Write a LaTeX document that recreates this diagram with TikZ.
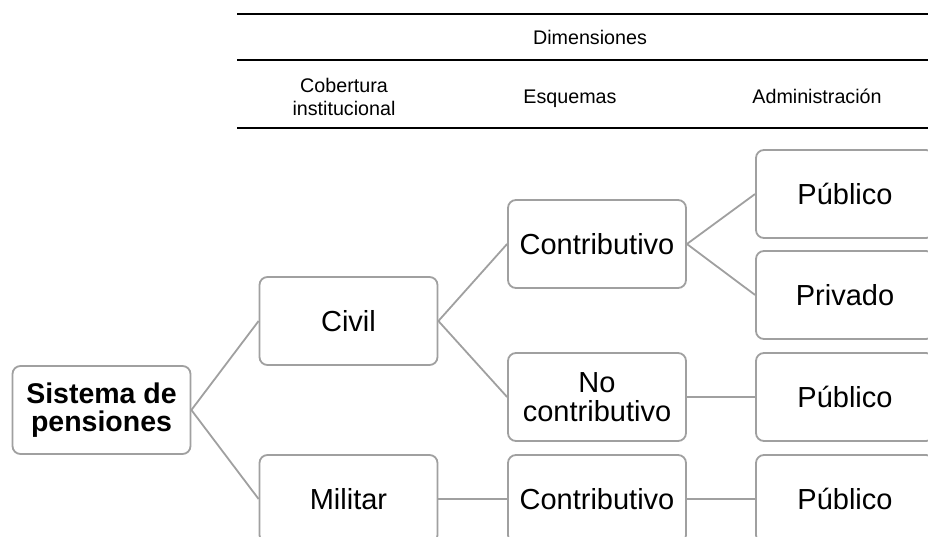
\documentclass[tikz,border=0pt]{standalone}
\usepackage{fontspec}
\setmainfont{Liberation Sans}
\definecolor{boxgray}{RGB}{160,160,160}
\begin{document}
\begin{tikzpicture}[x=1pt,y=-1pt,
  box/.style={draw=boxgray, line width=1.8pt, rounded corners=8pt, fill=white,
    minimum width=178pt, minimum height=88pt, inner sep=2pt, align=center,
    font=\fontsize{29}{29}\selectfont},
  link/.style={draw=boxgray, line width=1.8pt},
  head/.style={font=\fontsize{19.7}{22.7}\selectfont, align=center, inner sep=0pt},
  rule/.style={line width=2.5pt}]
\useasboundingbox (0,0) rectangle (928,537);
\clip (0,0) rectangle (928,537);
% header table
\coordinate (r1a) at (237,14);  \coordinate (r1b) at (940,14);
\coordinate (r2a) at (237,60);  \coordinate (r2b) at (940,60);
\coordinate (r3a) at (237,128); \coordinate (r3b) at (940,128);
\draw[rule] (r1a) -- (r1b);
\draw[rule] (r2a) -- (r2b);
\draw[rule] (r3a) -- (r3b);
\node[head, anchor=base] (dim) at (590,45) {Dimensiones};
\node[head] (cob) at (344,97) {Cobertura\\institucional};
\node[head, anchor=base] (esq) at (570,104) {Esquemas};
\node[head, anchor=base] (adm) at (817,104) {Administración};
% boxes
\node[box, font=\fontsize{28.5}{28}\selectfont\bfseries] (sys) at (101.5,410) {Sistema de\\pensiones};
\node[box] (civil) at (348.5,321) {Civil};
\node[box] (mil) at (348.5,499) {Militar};
\node[box] (con1) at (597,244) {Contributivo};
\node[box] (nocon) at (597,397) {No\\contributivo};
\node[box] (con2) at (597,499) {Contributivo};
\node[box] (pub1) at (845,194) {Público};
\node[box] (priv) at (845,295) {Privado};
\node[box] (pub2) at (845,397) {Público};
\node[box] (pub3) at (845,499) {Público};
% connectors
\draw[link] (sys.east) -- (civil.west);
\draw[link] (sys.east) -- (mil.west);
\draw[link] (civil.east) -- (con1.west);
\draw[link] (civil.east) -- (nocon.west);
\draw[link] (mil.east) -- (con2.west);
\draw[link] (con1.east) -- (pub1.west);
\draw[link] (con1.east) -- (priv.west);
\draw[link] (nocon.east) -- (pub2.west);
\draw[link] (con2.east) -- (pub3.west);
\end{tikzpicture}
\end{document}
